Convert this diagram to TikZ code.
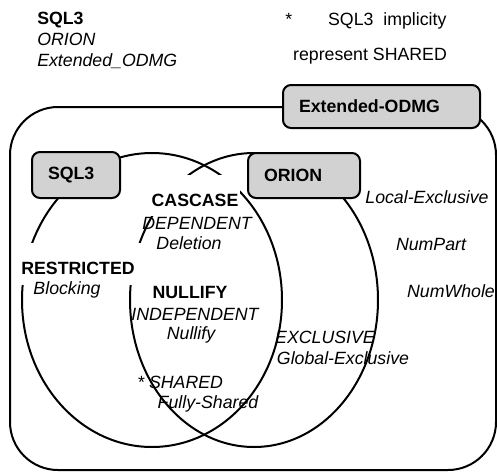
\documentclass[tikz,border=0pt]{standalone}
\usepackage{fontspec}
\setmainfont{Liberation Sans}
\usetikzlibrary{shapes.geometric}

\tikzset{
  every node/.style={font=\fontsize{13.3}{16}\selectfont, inner sep=0pt},
  head/.style={font=\fontsize{13.3}{16}\selectfont\bfseries},
  kind/.style={font=\fontsize{13.3}{16}\selectfont\itshape},
  tag/.style={
    draw=black, line width=1.5pt, rounded corners=6pt,
    fill=gray!35, align=left, inner xsep=12pt,
    font=\fontsize{13.3}{16}\selectfont\bfseries
  },
  set/.style={draw=black, line width=1.5pt, ellipse, inner sep=0pt},
  hide/.style={fill=white},
}

\begin{document}
\begin{tikzpicture}[x=0.75pt, y=-0.75pt]
    \useasboundingbox (0,0) rectangle (497,472);

    % Outer model
    \node[draw=black, line width=1.5pt, rounded corners=36pt,
      minimum width=364.5pt, minimum height=272.25pt] (odmg) at (253,288.5) {};

    % The two overlapping sets
    \node[set, minimum width=195pt, minimum height=220.5pt] (sqlset) at (152,300) {};
    \node[set, minimum width=186pt, minimum height=220.5pt] (orionset) at (254,300) {};

    % Model tags
    \node[tag, minimum height=34.5pt, text width=42pt] (sqlbox) at (76,175) {SQL3};
    \node[tag, minimum height=33.75pt, text width=60pt] (orionbox) at (304,175.5) {ORION};
    \node[tag, minimum height=32.25pt, text width=123.75pt] (odmgbox) at (381.5,106.5) {Extended-ODMG};

    % Legend
    \node[anchor=north west, align=left] (legend) at (37,11.5)
      {\textbf{SQL3}\\ \textit{ORION}\\ \textit{Extended\_ODMG}};
    \node[anchor=base west] (note) at (285,25) {*\hspace{27pt}SQL3\ \ implicity};
    \node[anchor=base] (noteb) at (370,60) {represent SHARED};

    % Semantics inside the sets
    \node[head, hide, anchor=base, text height=23.6pt, text depth=7.1pt,
      minimum width=67.5pt] (cascase) at (195,206.5) {CASCASE};
    \node[kind, anchor=base] (dependent) at (197,229.5) {DEPENDENT};
    \node[kind, anchor=base] (deletion) at (189,249) {Deletion};

    \node[head, hide, anchor=base, text height=23.5pt, text depth=7.9pt,
      minimum width=94.5pt] (restricted) at (78,274.5) {RESTRICTED};
    \node[kind, anchor=base] (blocking) at (67,294) {Blocking};

    \node[head, anchor=base] (nullify) at (190,298) {NULLIFY};
    \node[kind, anchor=base] (independent) at (195,320) {INDEPENDENT};
    \node[kind, anchor=base] (nullifyop) at (191,339) {Nullify};

    \node[kind, anchor=base west] (sharedkind) at (137,388) {* SHARED};
    \node[kind, anchor=base] (fullyshared) at (208,408) {Fully-Shared};

    \node[kind, anchor=base] (exclusive) at (325,343) {EXCLUSIVE};
    \node[kind, anchor=base] (globalex) at (343,364) {Global-Exclusive};

    % ORION only
    \node[kind, anchor=base] (localex) at (427,203) {Local-Exclusive};
    \node[kind, anchor=base] (numpart) at (431,250) {NumPart};
    \node[kind, anchor=base] (numwhole) at (451,297) {NumWhole};

\end{tikzpicture}
\end{document}
